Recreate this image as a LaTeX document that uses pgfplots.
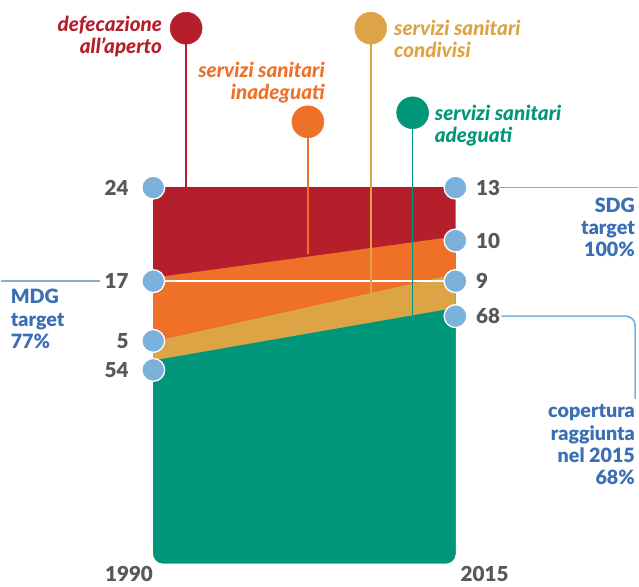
\documentclass[border=0pt]{standalone}
\usepackage{pgfplots}
\pgfplotsset{compat=1.18}
\usepackage{fontspec}
\setmainfont{Lato}[BoldFont={Lato Black}, BoldItalicFont={Lato Black Italic}]

\definecolor{rosso}{HTML}{B51F2B}
\definecolor{arancio}{HTML}{EE7029}
\definecolor{giallo}{HTML}{DDA446}
\definecolor{verde}{HTML}{009679}
\definecolor{pallino}{HTML}{7BB1DB}
\definecolor{blutesto}{HTML}{3A6EB5}
\definecolor{grigio}{HTML}{58585A}
\definecolor{navy}{HTML}{1B4F8F}

\begin{document}
\begin{tikzpicture}
\begin{axis}[
    scale only axis,
    width=479.25pt, height=438pt,
    xmin=1977.4, xmax=2030.1,
    ymin=-5.04, ymax=149.9,
    hide axis, clip=false,
]
\path (rel axis cs:0,0) rectangle (rel axis cs:1,1);

% aree cumulate (dal fondo): adeguati 54->68, condivisi 5->9, inadeguati 17->10, all'aperto 24->13
\begin{scope}
\clip[rounded corners=7.5pt] (axis cs:1990,0) rectangle (axis cs:2015,115);
\addplot[fill=rosso, draw=none] coordinates {(1990,0) (1990,100) (2015,100) (2015,0)};
\addplot[fill=arancio, draw=none] coordinates {(1990,0) (1990,76) (2015,87) (2015,0)};
\addplot[fill=giallo, draw=none] coordinates {(1990,0) (1990,59) (2015,77) (2015,0)};
\addplot[fill=verde, draw=none] coordinates {(1990,0) (1990,54) (2015,68) (2015,0)};
\end{scope}

% linea superiore e target MDG
\addplot[navy, line width=1.1pt] coordinates {(1990,100) (2015,100)};
\addplot[white, line width=1.4pt] coordinates {(1990,75.1) (2015,75.1)};

% spilli delle legende
\addplot[rosso, line width=1.1pt] coordinates {(1992.72,142.4) (1992.72,100)};
\addplot[arancio, line width=1.1pt] coordinates {(2002.79,117.5) (2002.79,82.2)};
\addplot[giallo, line width=1.1pt] coordinates {(2007.99,142.4) (2007.99,71.1)};
\addplot[verde, line width=1.1pt] coordinates {(2011.45,119.9) (2011.45,66.0)};
\addplot[only marks, mark=*, mark size=12pt, rosso] coordinates {(1992.72,142.4)};
\addplot[only marks, mark=*, mark size=12pt, arancio] coordinates {(2002.79,117.5)};
\addplot[only marks, mark=*, mark size=12pt, giallo] coordinates {(2007.99,142.4)};
\addplot[only marks, mark=*, mark size=12pt, verde] coordinates {(2011.45,119.9)};

% linee di richiamo blu
\addplot[pallino, line width=1.3pt] coordinates {(1977.4,75.1) (1985.6,75.1)};
\addplot[pallino, line width=1.3pt] coordinates {(2018.63,100) (2030.1,100)};
\draw[pallino, line width=1.3pt, rounded corners=7pt] (axis cs:2018.8,65.8) -- (axis cs:2029.85,65.8) -- (axis cs:2029.85,43.8);

% pallini
\addplot[only marks, mark=*, mark size=8.6pt, fill=pallino, draw=white, line width=1pt]
    coordinates {(1990,100) (1990,75.1) (1990,59.2) (1990,51.5)
                 (2015,100) (2015,85.9) (2015,75.1) (2015,65.8)};

% valori
\begin{scope}[every node/.style={font=\fontsize{15.5}{18}\selectfont\bfseries, text=grigio}]
\node[anchor=east] at (axis cs:1988.35,100) {24};
\node[anchor=east] at (axis cs:1988.35,75.1) {17};
\node[anchor=east] at (axis cs:1988.35,59.2) {5};
\node[anchor=east] at (axis cs:1988.35,51.5) {54};
\node[anchor=west] at (axis cs:2016.32,100) {13};
\node[anchor=west] at (axis cs:2016.32,85.9) {10};
\node[anchor=west] at (axis cs:2016.32,75.1) {9};
\node[anchor=west] at (axis cs:2016.32,65.8) {68};
\node at (axis cs:1988.0,-2.9) {1990};
\node at (axis cs:2017.4,-2.9) {2015};
\end{scope}

% etichette categorie
\begin{scope}[every node/.style={font=\fontsize{15.5}{16.5}\selectfont\bfseries\itshape, inner sep=0pt}]
\node[anchor=east, align=right, text=rosso] at (axis cs:1990.74,140.3) {defecazione\\all’aperto};
\node[anchor=east, align=right, text=arancio] at (axis cs:2004.2,127.9) {servizi sanitari\\inadeguati};
\node[anchor=west, align=left, text=giallo] at (axis cs:2009.9,139.5) {servizi sanitari\\condivisi};
\node[anchor=west, align=left, text=verde] at (axis cs:2013.27,116.4) {servizi sanitari\\adeguati};
\end{scope}

% note blu
\begin{scope}[every node/.style={font=\fontsize{14.8}{16.8}\selectfont\bfseries, text=blutesto, inner sep=0pt}]
\node[anchor=west, align=left] at (axis cs:1978.2,65.0) {MDG\\target\\77\%};
\node[anchor=east, align=right] at (axis cs:2029.85,89.4) {SDG\\target\\100\%};
\node[anchor=east, align=right] at (axis cs:2029.85,31.6) {copertura\\raggiunta\\nel 2015\\68\%};
\end{scope}
\end{axis}
\end{tikzpicture}
\end{document}
